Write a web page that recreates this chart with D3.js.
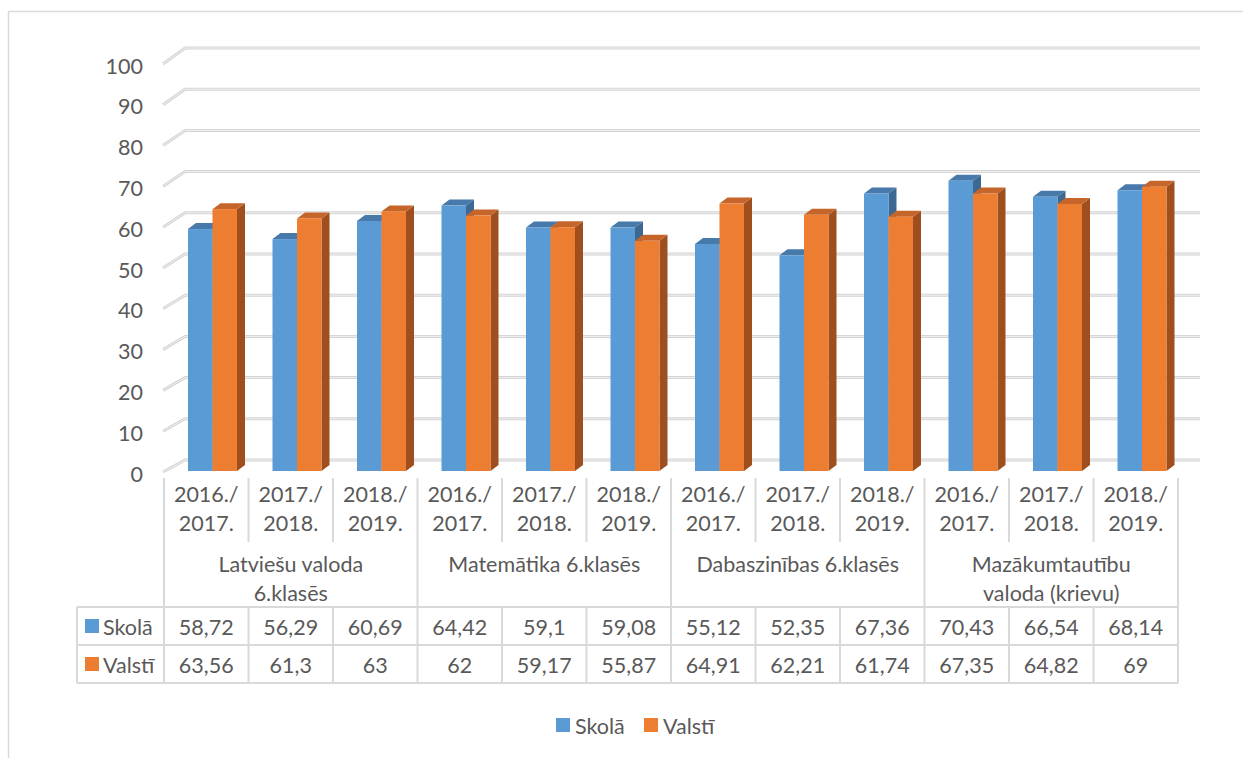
<!DOCTYPE html>
<meta charset="utf-8">
<style>
body { margin: 0; background: #fff; }
svg text { font-family: Lato, "Open Sans", sans-serif; fill: #595959; }
.grid line, .grid path { fill: none; }
</style>
<body>
<svg width="1243" height="758"></svg>
<script src="https://d3js.org/d3.v7.min.js"></script>
<script>

// data
var years = ["2016./|2017.", "2017./|2018.", "2018./|2019."];
var groups = ["Latviešu valoda|6.klasēs", "Matemātika 6.klasēs", "Dabaszinības 6.klasēs", "Mazākumtautību|valoda (krievu)"];
var series = ["Skolā", "Valstī"];
var skola = [58.72, 56.29, 60.69, 64.42, 59.1, 59.08, 55.12, 52.35, 67.36, 70.43, 66.54, 68.14];
var valsti = [63.56, 61.3, 63, 62, 59.17, 55.87, 64.91, 62.21, 61.74, 67.35, 64.82, 69];
var yTicks = [0, 10, 20, 30, 40, 50, 60, 70, 80, 90, 100];

var colors = {
  "Skolā": { front: "#5b9bd5", top: "#4779aa", side: "#3c6892" },
  "Valstī": { front: "#ed7d31", top: "#c5652a", side: "#9e4f1d" }
};

var svg = d3.select("svg");
var fontSize = 21.5;

// outer frame
svg.append("rect")
    .attr("x", 8.5).attr("y", 11.5)
    .attr("width", 1260).attr("height", 800)
    .attr("fill", "none").attr("stroke", "#d9d9d9").attr("stroke-width", 1.5);

var cats = d3.range(skola.length);
var x = d3.scaleBand().domain(cats).range([164, 1178]);
var xs = d3.scaleBand().domain(series).range([24, 73]);

var yBar = d3.scaleLinear().domain([0, 100]).range([471, 59]);
var yFront = d3.scaleLinear().domain([0, 100]).range([472, 64]);
var yBack = d3.scaleLinear().domain([0, 100]).range([460, 48]);
var xFront = 163, xBackL = 185, xBackR = 1200;

// gridlines (double-line look)
var grid = svg.append("g").attr("class", "grid");
function gridPath(v) {
  return "M" + xFront + "," + yFront(v) + "L" + xBackL + "," + yBack(v) + "L" + xBackR + "," + yBack(v);
}
grid.selectAll("path.outer").data(yTicks).enter().append("path")
    .attr("class", "outer")
    .attr("d", gridPath)
    .attr("stroke", "#d4d4d4").attr("stroke-width", 3);
grid.selectAll("path.inner").data(yTicks).enter().append("path")
    .attr("class", "inner")
    .attr("d", gridPath)
    .attr("stroke", "#f0f0f0").attr("stroke-width", 1);

// y labels
svg.append("g").selectAll("text").data(yTicks).enter().append("text")
    .attr("x", 143).attr("y", function(d) { return yFront(d) + 2; })
    .attr("dy", "0.35em")
    .attr("text-anchor", "end")
    .style("font-size", fontSize + "px")
    .text(function(d) { return d; });

// bars
var dx = 8, dy = -6;
var barData = [];
cats.forEach(function(i) {
  barData.push({ i: i, s: "Skolā", v: skola[i] });
  barData.push({ i: i, s: "Valstī", v: valsti[i] });
});

var bars = svg.append("g").selectAll("g").data(barData).enter().append("g");
bars.each(function(d) {
  var g = d3.select(this);
  var x0 = x(d.i) + xs(d.s), w = xs.bandwidth();
  var y0 = yBar(0), y1 = yBar(d.v);
  var c = colors[d.s];
  g.append("path")
      .attr("d", "M" + (x0 + w) + "," + y0 + "L" + (x0 + w + dx) + "," + (y0 + dy) +
                 "L" + (x0 + w + dx) + "," + (y1 + dy) + "L" + (x0 + w) + "," + y1 + "Z")
      .attr("fill", c.side);
  g.append("path")
      .attr("d", "M" + x0 + "," + y1 + "L" + (x0 + dx) + "," + (y1 + dy) +
                 "L" + (x0 + w + dx) + "," + (y1 + dy) + "L" + (x0 + w) + "," + y1 + "Z")
      .attr("fill", c.top);
  g.append("rect")
      .attr("x", x0).attr("y", y1)
      .attr("width", w).attr("height", y0 - y1)
      .attr("fill", c.front);
});

// category axis + data table
var lineColor = "#d9d9d9";
var tbl = svg.append("g");
var yTop = 478, yYearBottom = 542, yTable = 607, yRow = 645, yBottom = 683, xTableL = 77;

// vertical dividers
cats.concat([cats.length]).forEach(function(i) {
  var xx = i < cats.length ? x(i) : x.range()[1];
  var groupEdge = i % 3 === 0;
  if (groupEdge) {
    tbl.append("line").attr("x1", xx).attr("x2", xx).attr("y1", yTop).attr("y2", yBottom)
        .attr("stroke", lineColor).attr("stroke-width", 2);
  } else {
    tbl.append("line").attr("x1", xx).attr("x2", xx).attr("y1", yTop).attr("y2", yYearBottom)
        .attr("stroke", lineColor).attr("stroke-width", 2);
    tbl.append("line").attr("x1", xx).attr("x2", xx).attr("y1", yTable).attr("y2", yBottom)
        .attr("stroke", lineColor).attr("stroke-width", 2);
  }
});
tbl.append("line").attr("x1", xTableL).attr("x2", xTableL).attr("y1", yTable).attr("y2", yBottom)
    .attr("stroke", lineColor).attr("stroke-width", 2);
[yTable, yRow, yBottom].forEach(function(yy) {
  tbl.append("line").attr("x1", xTableL).attr("x2", x.range()[1]).attr("y1", yy).attr("y2", yy)
      .attr("stroke", lineColor).attr("stroke-width", 2);
});

// year labels
cats.forEach(function(i) {
  var parts = years[i % 3].split("|");
  var t = tbl.append("text")
      .attr("x", x(i) + x.bandwidth() / 2)
      .attr("text-anchor", "middle")
      .style("font-size", fontSize + "px");
  parts.forEach(function(p, k) {
    t.append("tspan").attr("x", x(i) + x.bandwidth() / 2).attr("y", 494 + k * 29).attr("dy", "0.35em").text(p);
  });
});

// group labels
groups.forEach(function(gname, gi) {
  var parts = gname.split("|");
  var cx = (x(gi * 3) + x(gi * 3 + 2) + x.bandwidth()) / 2;
  var t = tbl.append("text").attr("text-anchor", "middle").style("font-size", fontSize + "px");
  parts.forEach(function(p, k) {
    t.append("tspan").attr("x", cx).attr("y", 564 + k * 29).attr("dy", "0.35em").text(p);
  });
});

// table rows
var rows = [skola, valsti];
rows.forEach(function(vals, r) {
  var cy = r === 0 ? 627 : 665;
  tbl.append("rect").attr("x", 85).attr("y", cy - 8).attr("width", 14).attr("height", 14)
      .attr("fill", colors[series[r]].front);
  tbl.append("text").attr("x", 103).attr("y", cy).attr("dy", "0.35em")
      .style("font-size", fontSize + "px").text(series[r]);
  tbl.selectAll(null).data(vals).enter().append("text")
      .attr("x", function(d, i) { return x(i) + x.bandwidth() / 2; })
      .attr("y", cy).attr("dy", "0.35em")
      .attr("text-anchor", "middle")
      .style("font-size", fontSize + "px")
      .text(function(d) { return String(d).replace(".", ","); });
});

// legend
var legend = svg.append("g");
var legX = [556, 644];
series.forEach(function(s, k) {
  legend.append("rect").attr("x", legX[k]).attr("y", 718).attr("width", 14).attr("height", 14)
      .attr("fill", colors[s].front);
  legend.append("text").attr("x", legX[k] + 19).attr("y", 726).attr("dy", "0.35em")
      .style("font-size", fontSize + "px").text(s);
});

</script>
</body>
